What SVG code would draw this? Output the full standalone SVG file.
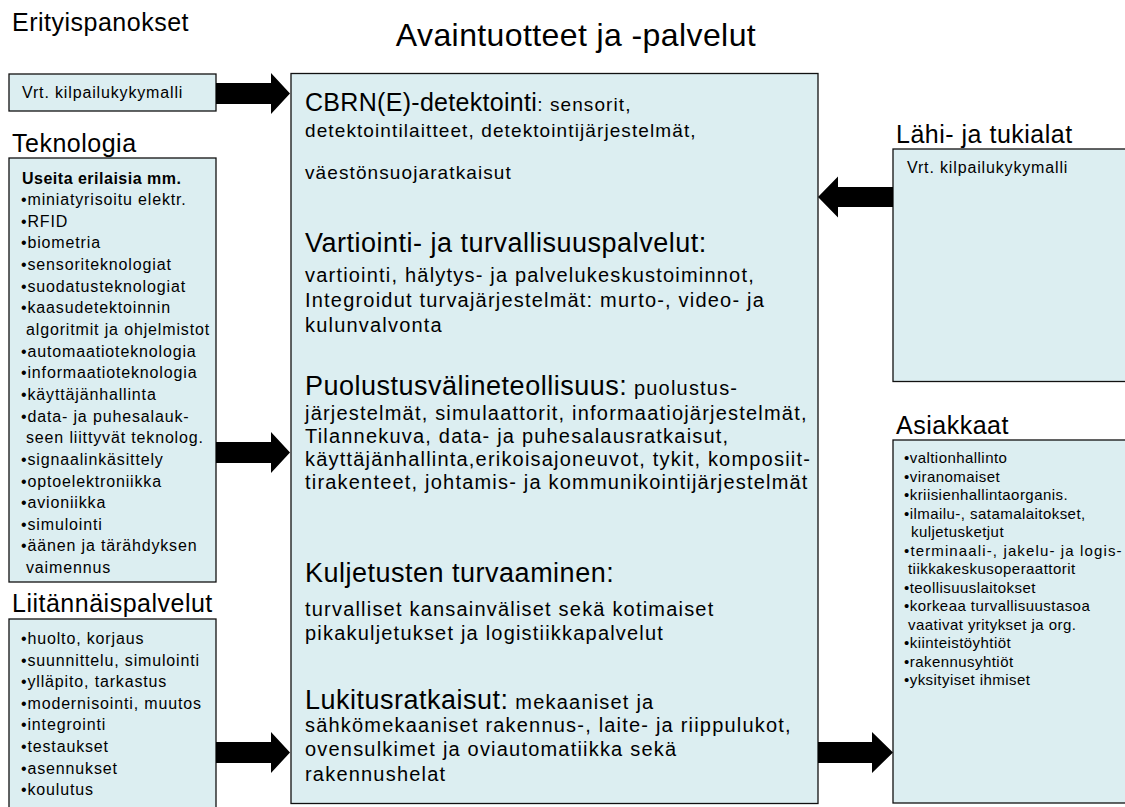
<svg xmlns="http://www.w3.org/2000/svg" width="1125" height="807" viewBox="0 0 1125 807">
  <style>
    text { font-family: "Liberation Sans", Arial, sans-serif; fill: #000; }
    .box { fill: #DCEEF1; stroke: #111; stroke-width: 1.3; }
    .title { font-size: 32px; letter-spacing: 0.4px; }
    .hdr { font-size: 25px; letter-spacing: 0.5px; }
    .lst { font-size: 16px; letter-spacing: 0.85px; }
    .lstb { font-size: 16px; letter-spacing: 0.5px; font-weight: bold; }
    .rl { font-size: 15px; letter-spacing: 0.45px; }
    .big { font-size: 27px; letter-spacing: 0.5px; }
    .big-s { font-size: 25px; letter-spacing: 0.3px; }
    .sm { font-size: 20px; letter-spacing: 1.2px; }
    .sm-s { font-size: 19px; letter-spacing: 1.1px; }
    .arrow { fill: #000; }
  </style>

  <text class="title" x="576" y="46" text-anchor="middle">Avaintuotteet ja -palvelut</text>

  <!-- Left: special inputs -->
  <g id="erityispanokset">
    <text class="hdr" x="12" y="31">Erityispanokset</text>
    <rect class="box" x="9" y="74" width="207" height="37"/>
    <text class="lst" x="22" y="98">Vrt. kilpailukykymalli</text>
  </g>

  <!-- Left: technologies -->
  <g id="teknologia">
    <text class="hdr" x="12" y="152">Teknologia</text>
    <rect class="box" x="9" y="158" width="207" height="424"/>
    <text class="lstb" x="22" y="183.5">Useita erilaisia mm.</text>
    <text class="lst" x="21">
      <tspan x="21" y="205">•miniatyrisoitu elektr.</tspan>
      <tspan x="21" y="226.7">•RFID</tspan>
      <tspan x="21" y="248.3">•biometria</tspan>
      <tspan x="21" y="270">•sensoriteknologiat</tspan>
      <tspan x="21" y="291.6">•suodatusteknologiat</tspan>
      <tspan x="21" y="313.3">•kaasudetektoinnin</tspan>
      <tspan x="26" y="334.9">algoritmit ja ohjelmistot</tspan>
      <tspan x="21" y="356.6">•automaatioteknologia</tspan>
      <tspan x="21" y="378.2">•informaatioteknologia</tspan>
      <tspan x="21" y="399.9">•käyttäjänhallinta</tspan>
      <tspan x="21" y="421.5">•data- ja puhesalauk-</tspan>
      <tspan x="26" y="443.2">seen liittyvät teknolog.</tspan>
      <tspan x="21" y="464.8">•signaalinkäsittely</tspan>
      <tspan x="21" y="486.5">•optoelektroniikka</tspan>
      <tspan x="21" y="508.1">•avioniikka</tspan>
      <tspan x="21" y="529.8">•simulointi</tspan>
      <tspan x="21" y="551.4">•äänen ja tärähdyksen</tspan>
      <tspan x="26" y="573.1">vaimennus</tspan>
    </text>
  </g>

  <!-- Left: auxiliary services -->
  <g id="liitannaispalvelut">
    <text class="hdr" x="12" y="612">Liitännäispalvelut</text>
    <rect class="box" x="9" y="619" width="207" height="200"/>
    <text class="lst">
      <tspan x="21" y="644">•huolto, korjaus</tspan>
      <tspan x="21" y="665.6">•suunnittelu, simulointi</tspan>
      <tspan x="21" y="687.2">•ylläpito, tarkastus</tspan>
      <tspan x="21" y="708.8">•modernisointi, muutos</tspan>
      <tspan x="21" y="730.4">•integrointi</tspan>
      <tspan x="21" y="752">•testaukset</tspan>
      <tspan x="21" y="773.6">•asennukset</tspan>
      <tspan x="21" y="795.2">•koulutus</tspan>
    </text>
  </g>

  <!-- Centre: key products and services -->
  <g id="avaintuotteet">
    <rect class="box" x="291" y="73.5" width="527" height="730"/>
    <text x="305" y="111"><tspan class="big-s">CBRN(E)-detektointi</tspan><tspan class="sm-s">: sensorit,</tspan></text>
    <text class="sm-s" x="305" y="137">detektointilaitteet, detektointijärjestelmät,</text>
    <text class="sm-s" x="305" y="179">väestönsuojaratkaisut</text>

    <text class="big" x="305" y="252">Vartiointi- ja turvallisuuspalvelut:</text>
    <text class="sm" x="305" y="282">vartiointi, hälytys- ja palvelukeskustoiminnot,</text>
    <text class="sm" x="305" y="307">Integroidut turvajärjestelmät: murto-, video- ja</text>
    <text class="sm" x="305" y="332">kulunvalvonta</text>

    <text x="305" y="395"><tspan class="big">Puolustusvälineteollisuus:</tspan><tspan class="sm"> puolustus-</tspan></text>
    <text class="sm" x="305" y="420">järjestelmät, simulaattorit, informaatiojärjestelmät,</text>
    <text class="sm" x="305" y="443">Tilannekuva, data- ja puhesalausratkaisut,</text>
    <text class="sm" x="305" y="466">käyttäjänhallinta,erikoisajoneuvot, tykit, komposiit-</text>
    <text class="sm" x="305" y="489">tirakenteet, johtamis- ja kommunikointijärjestelmät</text>

    <text class="big" x="305" y="582">Kuljetusten turvaaminen:</text>
    <text class="sm" x="305" y="616">turvalliset kansainväliset sekä kotimaiset</text>
    <text class="sm" x="305" y="640">pikakuljetukset ja logistiikkapalvelut</text>

    <text x="305" y="709"><tspan class="big">Lukitusratkaisut:</tspan><tspan class="sm"> mekaaniset ja</tspan></text>
    <text class="sm" x="305" y="732">sähkömekaaniset rakennus-, laite- ja riippulukot,</text>
    <text class="sm" x="305" y="756">ovensulkimet ja oviautomatiikka sekä</text>
    <text class="sm" x="305" y="781">rakennushelat</text>
  </g>

  <!-- Right: related and supporting sectors -->
  <g id="lahi-ja-tukialat">
    <text class="hdr" x="896" y="143">Lähi- ja tukialat</text>
    <rect class="box" x="893" y="149" width="240" height="232.5"/>
    <text class="lst" x="907" y="173">Vrt. kilpailukykymalli</text>
  </g>

  <!-- Right: customers -->
  <g id="asiakkaat">
    <text class="hdr" x="896" y="434">Asiakkaat</text>
    <rect class="box" x="893" y="440" width="240" height="363"/>
    <text class="rl">
      <tspan x="904" y="463">•valtionhallinto</tspan>
      <tspan x="904" y="481.5">•viranomaiset</tspan>
      <tspan x="904" y="500">•kriisienhallintaorganis.</tspan>
      <tspan x="904" y="518.5">•ilmailu-, satamalaitokset,</tspan>
      <tspan x="911" y="537">kuljetusketjut</tspan>
    </text>
    <text class="rl" x="904" y="555.5" textLength="218" lengthAdjust="spacing">•terminaali-, jakelu- ja logis-</text>
    <text class="rl">
      <tspan x="908" y="574">tiikkakeskusoperaattorit</tspan>
      <tspan x="904" y="592.5">•teollisuuslaitokset</tspan>
      <tspan x="904" y="611">•korkeaa turvallisuustasoa</tspan>
      <tspan x="908" y="629.5">vaativat yritykset ja org.</tspan>
      <tspan x="904" y="648">•kiinteistöyhtiöt</tspan>
      <tspan x="904" y="666.5">•rakennusyhtiöt</tspan>
      <tspan x="904" y="685">•yksityiset ihmiset</tspan>
    </text>
  </g>

  <!-- Block arrows -->
  <g id="connectors">
    <polygon class="arrow" points="216,83 271,83 271,73 290,93.5 271,114 271,104 216,104"/>
    <polygon class="arrow" points="216,442 271,442 271,432 290,452.5 271,473 271,463 216,463"/>
    <polygon class="arrow" points="216,742 271,742 271,732 290,752.5 271,773 271,763 216,763"/>
    <polygon class="arrow" points="893,187 838,187 838,176.5 818,197 838,217.5 838,207 893,207"/>
    <polygon class="arrow" points="818,742 872,742 872,732 893,752.5 872,773 872,763 818,763"/>
  </g>
</svg>
